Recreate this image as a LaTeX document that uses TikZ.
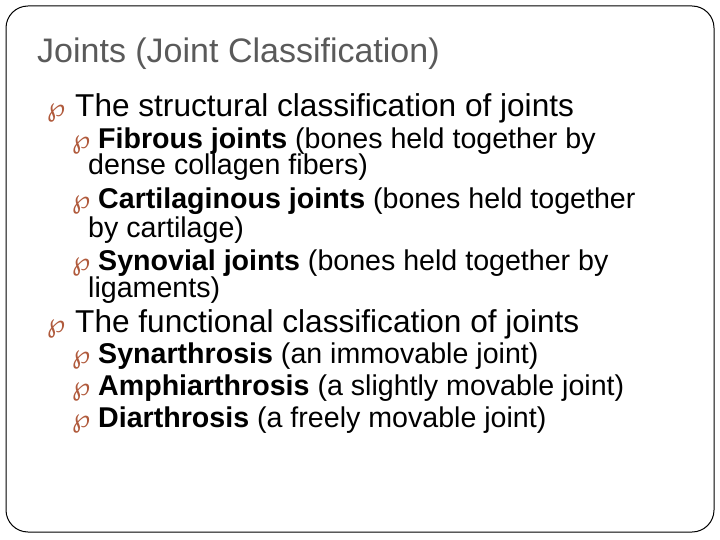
\documentclass[tikz,border=0pt]{standalone}
\usepackage{fontspec}
\setmainfont{Liberation Sans}
\newfontfamily\bulfont{DejaVu Sans}
\definecolor{bulc}{RGB}{176,90,60}
\definecolor{titc}{RGB}{90,90,90}
\begin{document}
\begin{tikzpicture}[x=1pt,y=-1pt,
  t/.style={anchor=base west,inner sep=0pt},
  lone/.style={t,font=\fontsize{31.6}{31.6}\selectfont},
  ltwo/.style={t,font=\fontsize{28.6}{28.6}\selectfont},
  bul/.style={t,text=bulc,font=\bulfont\fontsize{26}{26}\selectfont}]
\useasboundingbox (0,0) rectangle (720,540);
\draw[line width=1pt,rounded corners=22] (6,6) rectangle (714,532);
\node[t,text=titc,font=\fontsize{34}{34}\selectfont] (title) at (37,63) {Joints (Joint Classification)};
\node[bul] (b1) at (47,117) {℘};
\node[lone] (l1) at (75,117) {The structural classification of joints};
\node[bul] (b2) at (72,149) {℘};
\node[ltwo] (l2) at (98,149) {\textbf{Fibrous joints} (bones held together by};
\node[ltwo] (l2b) at (88,175) {dense collagen fibers)};
\node[bul] (b3) at (72,209) {℘};
\node[ltwo] (l3) at (98,209) {\textbf{Cartilaginous joints} (bones held together};
\node[ltwo] (l3b) at (88,237) {by cartilage)};
\node[bul] (b4) at (72,270) {℘};
\node[ltwo] (l4) at (98,270) {\textbf{Synovial joints} (bones held together by};
\node[ltwo] (l4b) at (88,297) {ligaments)};
\node[bul] (b5) at (47,332) {℘};
\node[lone] (l5) at (75,332) {The functional classification of joints};
\node[bul] (b6) at (72,363) {℘};
\node[ltwo] (l6) at (98,363) {\textbf{Synarthrosis} (an immovable joint)};
\node[bul] (b7) at (72,395) {℘};
\node[ltwo] (l7) at (98,395) {\textbf{Amphiarthrosis} (a slightly movable joint)};
\node[bul] (b8) at (72,427) {℘};
\node[ltwo] (l8) at (98,427) {\textbf{Diarthrosis} (a freely movable joint)};
\end{tikzpicture}
\end{document}
